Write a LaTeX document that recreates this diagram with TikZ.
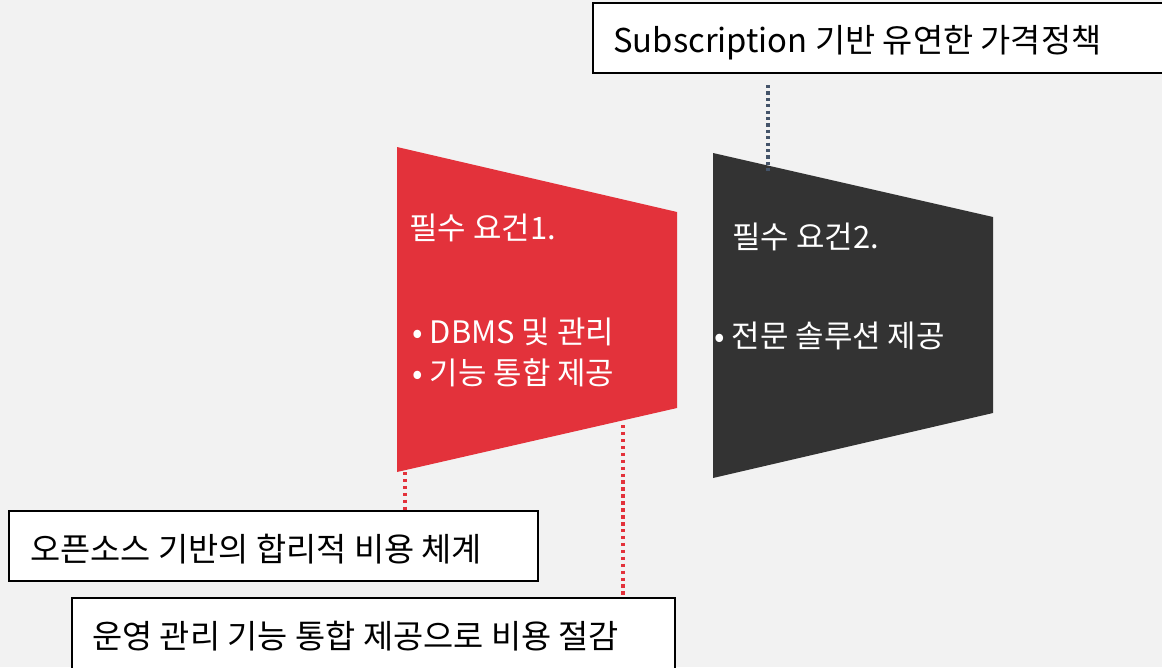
\documentclass[tikz,border=0pt]{standalone}
\usepackage{fontspec}
\setmainfont{Noto Sans CJK KR}
\definecolor{bg}{HTML}{F2F2F2}
\definecolor{redf}{HTML}{E3323B}
\definecolor{darkf}{HTML}{333333}
\definecolor{dotgray}{HTML}{44546A}
\tikzset{
  cbox/.style={draw=black, line width=1.3pt, fill=white},
  boxtext/.style={anchor=west, inner sep=0pt, font=\fontsize{24.6}{28}\selectfont, text=black},
  shapetext/.style={anchor=west, inner sep=0pt, font=\fontsize{23.2}{30.75}\selectfont, text=white, align=left},
  reddot/.style={draw=redf, line width=2.6pt, dash pattern=on 2.6pt off 2.6pt},
  graydot/.style={draw=dotgray, line width=2.4pt, dash pattern=on 2.4pt off 2.4pt},
}
\begin{document}
\begin{tikzpicture}[x=0.75pt,y=-0.75pt]
\useasboundingbox (0,0) rectangle (1162,667);
\fill[bg] (0,0) rectangle (1162,667);
\begin{scope}
\clip (0,0) rectangle (1162,667);
% trapezoids
\fill[redf] (397,147) -- (677,212) -- (677,408) -- (397,472) -- cycle;
\fill[darkf] (713,153) -- (993,217) -- (993,413) -- (713,478) -- cycle;
% connector anchor points
\coordinate (t1) at (768,85);
\coordinate (t2) at (768,172);
\coordinate (r1a) at (405,472);
\coordinate (r1b) at (405,511);
\coordinate (r2a) at (623,425);
\coordinate (r2b) at (623,598);
\draw[graydot] (t1) -- (t2);
\draw[reddot] (r1a) -- (r1b);
\draw[reddot] (r2a) -- (r2b);
% boxes
\draw[cbox] (593,3) rectangle (1175,73);
\node[boxtext] (top) at (613,43) {Subscription 기반 유연한 가격정책};
\draw[cbox] (9,511) rectangle (538,581);
\node[boxtext] (b1) at (30,549) {오픈소스 기반의 합리적 비용 체계};
\draw[cbox] (72,598) rectangle (675,680);
\node[boxtext] (b2) at (92,636) {운영 관리 기능 통합 제공으로 비용 절감};
% shape texts
\node[shapetext] (h1) at (409,228) {필수 요건1.};
\node[shapetext] (l1) at (412,352) {• DBMS 및 관리\\• 기능 통합 제공};
\node[shapetext] (h2) at (732,237) {필수 요건2.};
\node[shapetext] (l2) at (714,336) {• 전문 솔루션 제공};
\end{scope}
\end{tikzpicture}
\end{document}
